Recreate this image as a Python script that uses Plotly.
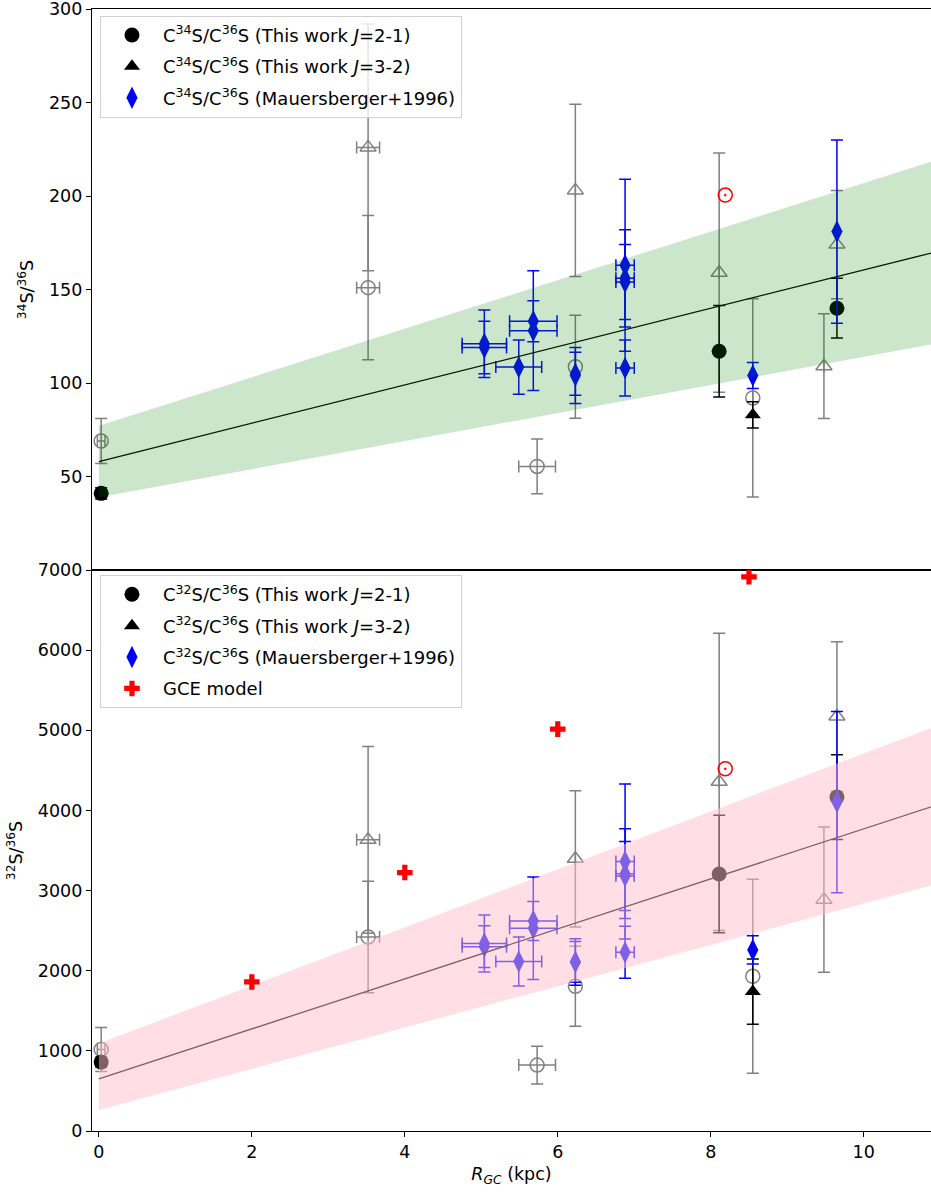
import plotly.graph_objects as go
from plotly.subplots import make_subplots

# ---------------- data: 34S/36S (top panel) ----------------
# This work J=2-1 (filled black circles)
top_j21_R = [0.03, 8.11, 9.65]
top_j21_val = [41, 117, 140]
top_j21_err = [3, 24.5, 16]
# This work J=3-2 (filled black triangles)
top_j32_R = [8.55]
top_j32_val = [83]
top_j32_err = [7]
# This work J=2-1 (grey open circles)
top_j21g_R = [0.03, 3.52, 5.73, 6.23, 8.55]
top_j21g_val = [69, 151, 55.4, 108.7, 92]
top_j21g_err = [12, 38.6, 14.6, 27.5, 53]
top_j21g_xerr = [0.05, 0.15, 0.24, 0, 0]
# This work J=3-2 (grey open triangles)
top_j32g_R = [3.52, 6.23, 8.11, 9.48, 9.65]
top_j32g_val = [226, 203, 159, 109, 174]
top_j32g_err = [66, 46, 64, 28, 29]
top_j32g_xerr = [0.15, 0, 0, 0, 0]
# Mauersberger+1996
mau_R = [5.04, 5.04, 5.49, 5.68, 5.68, 6.23, 6.23, 6.88, 6.88, 6.88, 6.88, 8.55, 9.65]
mau_R_err = [0.29, 0.29, 0.30, 0.31, 0.31, 0, 0, 0.12, 0.12, 0.12, 0.12, 0, 0]
top_mau_val = [121, 119, 108.5, 133, 128, 104, 105, 163, 156, 154, 108, 104, 181]
top_mau_err = [18, 14, 14.5, 11, 32, 15, 11.5, 46, 26, 20, 15, 7, 49]
# Solar system value
sun_R = [8.19]
top_sun_val = [200.5]
# Fit line and band
fit_R = [0, 11]
top_fit = [58.0, 170.7]
top_band_hi = [77.1, 219.9]
top_band_lo = [38.9, 121.5]

# ---------------- data: 32S/36S (bottom panel) ----------------
bot_j21_val = [860, 3207, 4166]
bot_j21_err = [60, 733, 530]
bot_j32_val = [1740]
bot_j32_err = [407]
bot_j21g_val = [1017, 2420, 822, 1806, 1930]
bot_j21g_err = [275, 695, 237, 498, 1210]
bot_j32g_val = [3633, 3396, 4357, 2887, 5171]
bot_j32g_err = [1166, 851, 1854, 905, 934]
bot_mau_val = [2340, 2300, 2115, 2620, 2530, 2110, 2110, 3363, 3210, 3182, 2230, 2260, 4104]
bot_mau_err = [355, 260, 307, 243, 639, 290, 255, 967, 560, 430, 325, 175, 1130]
bot_sun_val = [4520]
gce_R = [2, 4, 6, 8.5]
gce_val = [1860, 3225, 5015, 6915]
bot_fit = [650, 4082]
bot_band_hi = [1092, 5072]
bot_band_lo = [261, 3095]

x_ticks = [0, 2, 4, 6, 8, 10]
top_ticks = [50, 100, 150, 200, 250, 300]
bot_ticks = [0, 1000, 2000, 3000, 4000, 5000, 6000, 7000]

FONT = "DejaVu Sans"
FS = 17.5
LFS = 18

fig = make_subplots(rows=2, cols=1, shared_xaxes=True, vertical_spacing=0)

_grp = [0]


def add_err(row, x, y, yerr, color, symbol, size, name=None, xerr=None,
            legend="legend", show=False, lw=1.5, fill=None):
    _grp[0] += 1
    marker = dict(symbol=symbol, size=size, color=fill if fill else color,
                  line=dict(color=color, width=lw if "open" in symbol else 0))
    tr = go.Scatter(
        x=x, y=y, mode="markers", marker=marker, name=name or "",
        showlegend=show, legend=legend, legendgroup=f"g{_grp[0]}",
        error_y=dict(type="data", array=yerr, symmetric=True, color=color,
                     thickness=1.5, width=6),
    )
    if xerr is not None:
        tr.error_x = dict(type="data", array=xerr, symmetric=True, color=color,
                          thickness=1.5, width=6)
    fig.add_trace(tr, row=row, col=1)


lab = lambda a: f"C<sup>{a}</sup>S/C<sup>36</sup>S"

# ---- top panel ----
add_err(1, top_j21g_R, top_j21g_val, top_j21g_err, "gray", "circle-open", 14, xerr=top_j21g_xerr)
add_err(1, top_j32g_R, top_j32g_val, top_j32g_err, "gray", "triangle-up-open", 14, xerr=top_j32g_xerr)
add_err(1, top_j21_R, top_j21_val, top_j21_err, "black", "circle", 15,
        name=lab(34) + " (This work <i>J</i>=2-1)", show=True, legend="legend")
add_err(1, top_j32_R, top_j32_val, top_j32_err, "black", "triangle-up", 14,
        name=lab(34) + " (This work <i>J</i>=3-2)", show=True, legend="legend")
add_err(1, mau_R, top_mau_val, top_mau_err, "blue", "diamond-tall", 16, xerr=mau_R_err,
        name=lab(34) + " (Mauersberger+1996)", show=True, legend="legend")
fig.add_trace(go.Scatter(x=fit_R, y=top_fit, mode="lines", line=dict(color="black", width=1.3),
                         showlegend=False), row=1, col=1)
fig.add_trace(go.Scatter(x=fit_R + fit_R[::-1], y=top_band_lo + top_band_hi[::-1],
                         fill="toself", fillcolor="rgba(0,128,0,0.2)", mode="lines",
                         line=dict(width=0), showlegend=False, hoverinfo="skip"), row=1, col=1)
fig.add_trace(go.Scatter(x=sun_R, y=top_sun_val, mode="markers", showlegend=False,
                         marker=dict(symbol="circle-open-dot", size=14,
                                     line=dict(color="red", width=1.5), color="red")),
              row=1, col=1)

# ---- bottom panel ----
add_err(2, top_j21g_R, bot_j21g_val, bot_j21g_err, "gray", "circle-open", 14, xerr=top_j21g_xerr)
add_err(2, top_j32g_R, bot_j32g_val, bot_j32g_err, "gray", "triangle-up-open", 14, xerr=top_j32g_xerr)
add_err(2, top_j21_R, bot_j21_val, bot_j21_err, "black", "circle", 15,
        name=lab(32) + " (This work <i>J</i>=2-1)", show=True, legend="legend2")
add_err(2, top_j32_R, bot_j32_val, bot_j32_err, "black", "triangle-up", 14,
        name=lab(32) + " (This work <i>J</i>=3-2)", show=True, legend="legend2")
add_err(2, mau_R, bot_mau_val, bot_mau_err, "blue", "diamond-tall", 16, xerr=mau_R_err,
        name=lab(32) + " (Mauersberger+1996)", show=True, legend="legend2")
fig.add_trace(go.Scatter(x=fit_R, y=bot_fit, mode="lines", line=dict(color="black", width=1.3),
                         showlegend=False), row=2, col=1)
fig.add_trace(go.Scatter(x=fit_R + fit_R[::-1], y=bot_band_lo + bot_band_hi[::-1],
                         fill="toself", fillcolor="rgba(255,192,203,0.5)", mode="lines",
                         line=dict(width=0), showlegend=False, hoverinfo="skip"), row=2, col=1)
fig.add_trace(go.Scatter(x=gce_R, y=gce_val, mode="markers", name="GCE model",
                         showlegend=True, legend="legend2", legendgroup="gce",
                         marker=dict(symbol="cross", size=13, color="red", line=dict(width=0))),
              row=2, col=1)
fig.add_trace(go.Scatter(x=sun_R, y=bot_sun_val, mode="markers", showlegend=False,
                         marker=dict(symbol="circle-open-dot", size=14,
                                     line=dict(color="red", width=1.5), color="red")),
              row=2, col=1)

axis_common = dict(showline=True, linecolor="black", linewidth=1.2,
                   ticks="outside", ticklen=5, tickwidth=1.2, tickcolor="black",
                   showgrid=False, zeroline=False, automargin=False,
                   ticklabeloverflow="allow",
                   tickfont=dict(family=FONT, size=FS, color="black"))

fig.update_xaxes(range=[-0.09, 10.88], tickvals=x_ticks, mirror=True, **axis_common)
fig.update_xaxes(showticklabels=False, ticks="", row=1, col=1)
fig.update_xaxes(title=dict(text="<i>R</i><sub><i>GC</i></sub> (kpc)",
                            font=dict(family=FONT, size=FS, color="black"), standoff=6),
                 row=2, col=1)
fig.update_yaxes(range=[0, 300], tickvals=top_ticks, row=1, col=1, mirror=False,
                 title=dict(text="<sup>34</sup>S/<sup>36</sup>S",
                            font=dict(family=FONT, size=FS, color="black"), standoff=10),
                 **axis_common)
fig.update_yaxes(range=[0, 7000], tickvals=bot_ticks, row=2, col=1, mirror=False,
                 title=dict(text="<sup>32</sup>S/<sup>36</sup>S",
                            font=dict(family=FONT, size=FS, color="black"), standoff=10),
                 **axis_common)

legend_common = dict(bgcolor="rgba(255,255,255,0.8)", bordercolor="#d0d0d0", borderwidth=1,
                     font=dict(family=FONT, size=LFS, color="black"),
                     xanchor="left", yanchor="top", tracegroupgap=5, itemwidth=52,
                     traceorder="grouped")
fig.update_layout(
    width=931, height=1192,
    margin=dict(l=92, r=0, t=9, b=61, autoexpand=False),
    paper_bgcolor="white", plot_bgcolor="white",
    font=dict(family=FONT, size=FS, color="black"),
    legend=dict(x=0.0095, y=0.994, **legend_common),
    legend2=dict(x=0.0095, y=0.4955, **legend_common),
)

fig.write_html("out.html", config={"displayModeBar": False},
               post_script="document.body.style.margin='0';document.body.style.overflow='hidden';")
